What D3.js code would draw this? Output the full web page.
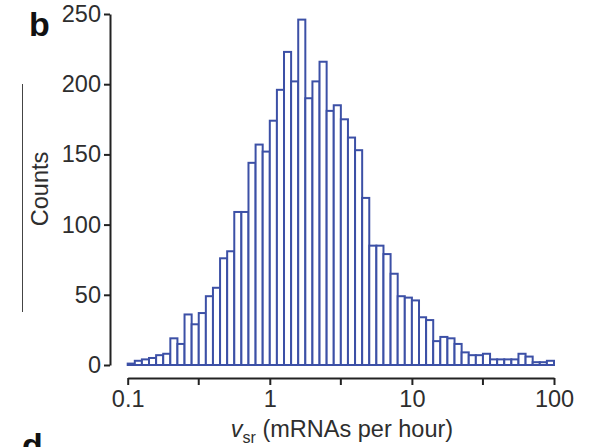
<!DOCTYPE html>
<html>
<head>
<meta charset="utf-8">
<script src="https://cdn.jsdelivr.net/npm/d3@7"></script>
<style>
  html, body { margin: 0; padding: 0; background: #fff; }
  svg { display: block; }
  text { font-family: "Liberation Sans", Arial, Helvetica, sans-serif; }
</style>
</head>
<body>
<svg id="chart" width="589" height="447"></svg>
<script>
// ---- data ----
const counts = [1, 3, 4, 5, 7, 8, 19, 15, 36, 29,
                37, 49, 55, 76, 81, 109, 109, 144, 157, 152,
                174, 196, 223, 202, 246, 190, 202, 216, 181, 185,
                175, 162, 153, 119, 85, 85, 79, 65, 49, 48,
                46, 34, 32, 17, 20, 19, 15, 9, 7, 7,
                8, 4, 4, 4, 4, 8, 6, 2, 2, 3];
const binLog10Start = -1;      // first bin starts at 0.1
const binLog10Width = 0.05;    // 20 bins per decade
const xTickValues = [0.1, 1, 10, 100];
const xTickLabels = ["0.1", "1", "10", "100"];
const xMinorTicks = [0.3162, 3.162, 31.62];
const yTickValues = [0, 50, 100, 150, 200, 250];
const yLabel = "Counts";
const panelLetter = "b";
const nextPanelLetter = "d";

// ---- layout ----
const svg = d3.select("#chart");
const axisColor = "#222";
const textColor = "#2e2e2e";
const barColor = "#3c50a6";
const fs = 23.5;

const x = d3.scaleLog().domain([0.1, 100]).range([127.7, 554]);
const y = d3.scaleLinear().domain([0, 250]).range([365, 14]);

const bins = counts.map((c, i) => ({
  x0: Math.pow(10, binLog10Start + i * binLog10Width),
  x1: Math.pow(10, binLog10Start + (i + 1) * binLog10Width),
  c
}));

// bars
svg.append("g").selectAll("rect").data(bins).join("rect")
  .attr("x", d => x(d.x0))
  .attr("width", d => x(d.x1) - x(d.x0))
  .attr("y", d => y(d.c))
  .attr("height", d => y(0) - y(d.c))
  .attr("fill", "#fff")
  .attr("stroke", barColor)
  .attr("stroke-width", 2);

// y axis
const yAxis = svg.append("g")
  .attr("transform", "translate(110,0)")
  .call(d3.axisLeft(y).tickValues(yTickValues).tickSize(6).tickSizeOuter(0).tickPadding(3));
yAxis.select(".domain").attr("stroke", axisColor).attr("stroke-width", 2);
yAxis.selectAll(".tick line").attr("stroke", axisColor).attr("stroke-width", 2);
yAxis.selectAll(".tick text").attr("fill", textColor).attr("font-size", fs)
  .attr("font-family", "Liberation Sans, Arial, sans-serif");

// x axis
const xAxis = svg.append("g")
  .attr("transform", "translate(0,378)")
  .call(d3.axisBottom(x).tickValues(xTickValues)
    .tickFormat((d, i) => xTickLabels[i]).tickSize(7).tickSizeOuter(0).tickPadding(5));
xAxis.select(".domain").attr("stroke", axisColor).attr("stroke-width", 2);
xAxis.selectAll(".tick line").attr("stroke", axisColor).attr("stroke-width", 2);
xAxis.selectAll(".tick text").attr("fill", textColor).attr("font-size", fs)
  .attr("font-family", "Liberation Sans, Arial, sans-serif");
// minor ticks
xAxis.selectAll(".minor").data(xMinorTicks).join("line")
  .attr("class", "minor")
  .attr("x1", d => x(d)).attr("x2", d => x(d))
  .attr("y1", 0).attr("y2", 7)
  .attr("stroke", axisColor).attr("stroke-width", 2);

// x label
const xl = svg.append("text")
  .attr("x", 342).attr("y", 437)
  .attr("text-anchor", "middle")
  .attr("font-size", fs)
  .attr("fill", textColor);
xl.append("tspan").attr("font-style", "italic").text("v");
xl.append("tspan").attr("font-size", 16).attr("dy", 6).text("sr");
xl.append("tspan").attr("dy", -6).text(" (mRNAs per hour)");

// y label
svg.append("text")
  .attr("transform", "translate(48,189) rotate(-90)")
  .attr("text-anchor", "middle")
  .attr("font-size", fs)
  .attr("fill", textColor)
  .text(yLabel);

// panel letters
svg.append("text").attr("x", 29).attr("y", 36)
  .attr("font-size", 34).attr("font-weight", "bold").attr("fill", "#111")
  .text(panelLetter);
svg.append("text").attr("x", 22).attr("y", 457)
  .attr("font-size", 34).attr("font-weight", "bold").attr("fill", "#111")
  .text(nextPanelLetter);

// thin vertical line at left
svg.append("line")
  .attr("x1", 22.5).attr("x2", 22.5).attr("y1", 84).attr("y2", 312)
  .attr("stroke", "#444").attr("stroke-width", 1);
</script>
</body>
</html>
